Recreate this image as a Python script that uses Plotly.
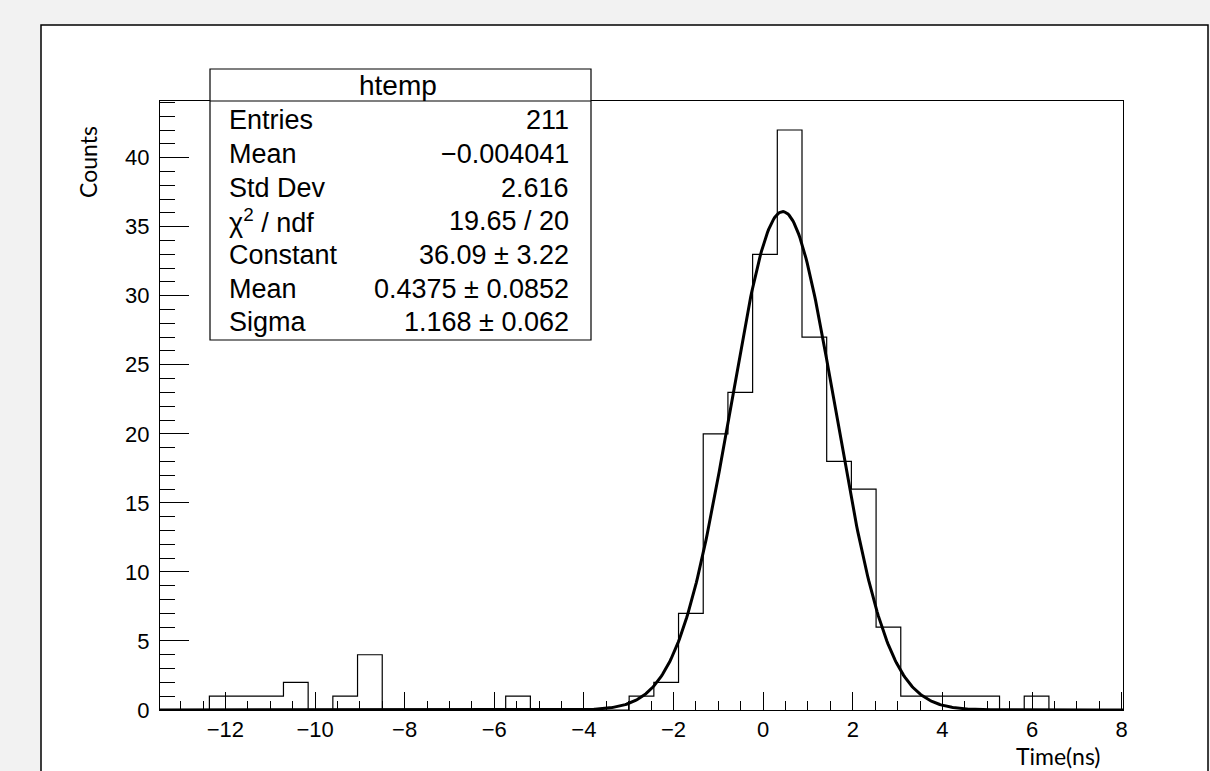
import plotly.graph_objects as go
import numpy as np

# ---- data ----
hist_xmin = -13.46
hist_xmax = 8.03
counts = [0, 0, 1, 1, 1, 2, 0, 1, 4, 0, 0, 0, 0, 0, 1, 0, 0, 0, 0,
          1, 2, 7, 20, 23, 33, 42, 27, 18, 16, 6, 1, 1, 1, 1, 0, 1, 0, 0, 0]
fit_constant = 36.09
fit_mean = 0.4375
fit_sigma = 1.168

stat_labels = ["Entries", "Mean", "Std Dev", "χ<sup>2</sup> / ndf", "Constant", "Mean", "Sigma"]
stat_values = ["211", "−0.004041", "2.616", "19.65 / 20", "36.09 ± 3.22", "0.4375 ± 0.0852", "1.168 ± 0.062"]
stat_title = "htemp"

x_ticks = [-12, -10, -8, -6, -4, -2, 0, 2, 4, 6, 8]
y_ticks = [0, 5, 10, 15, 20, 25, 30, 35, 40]

# ---- build the histogram outline ----
nb = len(counts)
edges = np.linspace(hist_xmin, hist_xmax, nb + 1)
step_x = list(edges)
step_y = list(counts) + [counts[-1]]

fit_x = np.linspace(hist_xmin, hist_xmax, 800)
fit_y = fit_constant * np.exp(-0.5 * ((fit_x - fit_mean) / fit_sigma) ** 2)

W, H = 1210, 771
L, R, T, B = 160, 1123, 101, 710


def px(x):
    return (x - L) / (R - L)


def py(y):
    return (B - y) / (B - T)


fig = go.Figure()
fig.add_trace(go.Scatter(x=step_x, y=step_y, mode="lines", line=dict(shape="hv", color="black", width=1.2),
                         hoverinfo="skip", showlegend=False))
fig.add_trace(go.Scatter(x=fit_x, y=fit_y, mode="lines", line=dict(color="black", width=3),
                         hoverinfo="skip", showlegend=False))

tickfont = dict(family="Liberation Sans, Arial, sans-serif", size=22, color="black")

fig.update_xaxes(range=[hist_xmin, hist_xmax], tickvals=x_ticks, ticks="inside", ticklen=18, tickwidth=1,
                 tickcolor="black", showline=True, linecolor="black", linewidth=1, mirror=True,
                 showgrid=False, zeroline=False, tickfont=tickfont, ticklabelstandoff=0,
                 minor=dict(dtick=0.5, tick0=0, ticks="inside", ticklen=9, tickwidth=1, tickcolor="black"))
fig.update_yaxes(range=[0, 44.1], tickvals=y_ticks, ticks="inside", ticklen=29, tickwidth=1,
                 tickcolor="black", showline=True, linecolor="black", linewidth=1, mirror=True,
                 showgrid=False, zeroline=False, tickfont=tickfont, ticklabelstandoff=5,
                 minor=dict(dtick=1, tick0=0, ticks="inside", ticklen=15, tickwidth=1, tickcolor="black"))

shapes = []
# white canvas panel
shapes.append(dict(type="rect", xref="paper", yref="paper", x0=px(41), x1=px(1208), y0=py(790), y1=py(25),
                   fillcolor="white", line=dict(color="black", width=1.5), layer="below"))
# stats box
shapes.append(dict(type="rect", xref="paper", yref="paper", x0=px(210), x1=px(591), y0=py(340), y1=py(69),
                   fillcolor="white", line=dict(color="black", width=1.2), layer="above"))
shapes.append(dict(type="line", xref="paper", yref="paper", x0=px(210), x1=px(591), y0=py(101), y1=py(101),
                   line=dict(color="black", width=1.2), layer="above"))

annotations = []
statfont = dict(family="Liberation Sans, Arial, sans-serif", size=27, color="black")
annotations.append(dict(text=stat_title, xref="paper", yref="paper", x=px(398), y=py(85), xanchor="center",
                        yanchor="middle", showarrow=False,
                        font=dict(family="Liberation Sans, Arial, sans-serif", size=28, color="black")))
row_y = [120, 154, 188, 221, 255, 289, 322]
for lab, val, yy in zip(stat_labels, stat_values, row_y):
    annotations.append(dict(text=lab, xref="paper", yref="paper", x=px(227), y=py(yy), xanchor="left",
                            yanchor="middle", showarrow=False, font=statfont))
    annotations.append(dict(text=val, xref="paper", yref="paper", x=px(571), y=py(yy), xanchor="right",
                            yanchor="middle", showarrow=False, font=statfont))

axfont = dict(family="Lato, Open Sans, sans-serif", size=23, color="black")
annotations.append(dict(text="Counts", xref="paper", yref="paper", x=px(88), y=py(162), textangle=-90,
                        xanchor="center", yanchor="middle", showarrow=False, font=axfont))
annotations.append(dict(text="Time(ns)", xref="paper", yref="paper", x=px(1058), y=py(771),
                        xanchor="center", yanchor="bottom", showarrow=False, font=axfont,
                        borderpad=0))

fig.update_layout(width=W, height=H, margin=dict(l=L, r=W - R, t=T, b=H - B),
                  paper_bgcolor="#f2f2f2", plot_bgcolor="white", shapes=shapes, annotations=annotations,
                  showlegend=False)

fig.write_html("out.html")
